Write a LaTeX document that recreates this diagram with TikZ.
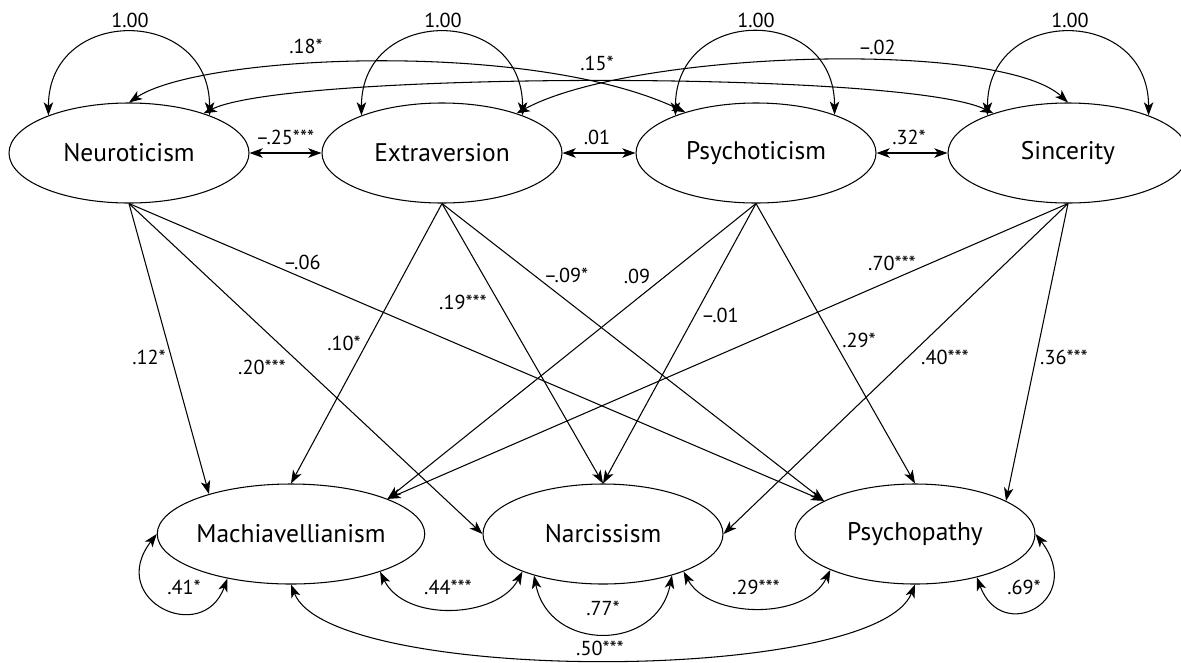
\documentclass[tikz,border=0pt]{standalone}
\usepackage{fontspec}
\setmainfont{PT Sans}
\usetikzlibrary{shapes.geometric,arrows.meta}

\begin{document}
\begin{tikzpicture}[
    >={Stealth[length=7.5pt,width=5.4pt,inset=2pt]},
    line width=0.6pt,
    latent/.style={ellipse,draw,minimum width=4.8cm,minimum height=2cm,inner sep=0pt,font=\fontsize{14.5}{17}\selectfont},
    coef/.style={font=\fontsize{11.5}{13}\selectfont,inner sep=1pt}
]
    \useasboundingbox (0,0) rectangle (23.62,-13.24);

    \node[latent] (neuro) at (2.58,-3.06) {Neuroticism};
    \node[latent] (extra) at (8.84,-3.06) {Extraversion};
    \node[latent] (psychot) at (15.12,-3.06) {Psychoticism};
    \node[latent] (sinc) at (21.36,-3.06) {Sincerity};
    \node[latent] (mach) at (5.82,-10.68) {Machiavellianism};
    \node[latent] (narc) at (12.06,-10.68) {Narcissism};
    \node[latent] (psychop) at (18.30,-10.68) {Psychopathy};

    \draw[<->] (neuro.155) .. controls +(0,2.2) and +(0,2.2) .. (neuro.25);
    \draw[<->] (extra.155) .. controls +(0,2.2) and +(0,2.2) .. (extra.25);
    \draw[<->] (psychot.155) .. controls +(0,2.2) and +(0,2.2) .. (psychot.26);
    \draw[<->] (sinc.155) .. controls +(0,2.2) and +(0,2.2) .. (sinc.25);
    \node[coef] (v1) at (2.60,-0.40) {1.00};
    \node[coef] (v2) at (8.86,-0.40) {1.00};
    \node[coef] (v3) at (15.12,-0.40) {1.00};
    \node[coef] (v4) at (21.40,-0.40) {1.00};

    \draw[<->] (neuro.90) .. controls +(1.42,0.96) and +(-3.1,1.46) .. (psychot.150);
    \draw[<->] (neuro.28) .. controls +(1.68,0.84) and +(-1.76,0.86) .. (sinc.152);
    \draw[<->] (extra.28) .. controls +(2.32,1.26) and +(-1.36,1.26) .. (sinc.90);
    \node[coef] (r1) at (6.12,-0.92) {.18*};
    \node[coef] (r2) at (11.94,-1.26) {.15*};
    \node[coef] (r3) at (17.54,-0.94) {–.02};

    \draw[<->] (neuro.east) -- (extra.west);
    \draw[<->] (extra.east) -- (psychot.west);
    \draw[<->] (psychot.east) -- (sinc.west);
    \node[coef] (r4) at (5.70,-2.74) {–.25***};
    \node[coef] (r5) at (11.94,-2.74) {.01};
    \node[coef] (r6) at (18.18,-2.74) {.32*};

    \draw[->] (neuro.south) -- (mach.154);
    \draw[->] (neuro.south) -- (narc.west);
    \draw[->] (neuro.south) -- (psychop.160);
    \draw[->] (extra.south) -- (mach.north);
    \draw[->] (extra.south) -- (narc.north);
    \draw[->] (extra.south) -- (psychop.160);
    \draw[->] (psychot.south) -- (mach.20);
    \draw[->] (psychot.south) -- (narc.north);
    \draw[->] (psychot.south) -- (psychop.north);
    \draw[->] (sinc.south) -- (mach.20);
    \draw[->] (sinc.south) -- (narc.east);
    \draw[->] (sinc.south) -- (psychop.20);
    \node[coef] (p1) at (2.98,-7.14) {.12*};
    \node[coef] (p2) at (5.24,-7.34) {.20***};
    \node[coef] (p3) at (6.04,-5.24) {–.06};
    \node[coef] (p4) at (6.88,-6.86) {.10*};
    \node[coef] (p5) at (9.26,-6.04) {.19***};
    \node[coef] (p6) at (11.32,-5.50) {–.09*};
    \node[coef] (p7) at (12.74,-5.52) {.09};
    \node[coef] (p8) at (14.40,-6.30) {–.01};
    \node[coef] (p9) at (17.18,-6.80) {.29*};
    \node[coef] (p10) at (17.84,-5.26) {.70***};
    \node[coef] (p11) at (18.90,-7.14) {.40***};
    \node[coef] (p12) at (21.28,-7.14) {.36***};

    \draw[<->] (mach.180) .. controls +(-1.02,-1.32) and +(-0.5,-1.36) .. (mach.215);
    \draw[<->] (psychop.0) .. controls +(1.02,-1.32) and +(0.5,-1.36) .. (psychop.325);
    \draw[<->] (mach.337) .. controls +(0.5,-1.02) and +(-0.5,-0.94) .. (narc.205);
    \draw[<->] (narc.211) .. controls +(0.3,-1.54) and +(-0.3,-1.54) .. (narc.329);
    \draw[<->] (narc.335) .. controls +(0.5,-0.94) and +(-0.5,-1.02) .. (psychop.203);
    \draw[<->] (mach.south) .. controls +(0.78,-2.0) and +(-0.8,-2.0) .. (psychop.south);
    \node[coef] (e1) at (3.68,-11.74) {.41*};
    \node[coef] (e2) at (8.96,-11.74) {.44***};
    \node[coef] (e3) at (12.06,-12.16) {.77*};
    \node[coef] (e4) at (15.12,-11.74) {.29***};
    \node[coef] (e5) at (20.48,-11.74) {.69*};
    \node[coef] (e6) at (12.00,-12.96) {.50***};
\end{tikzpicture}
\end{document}
